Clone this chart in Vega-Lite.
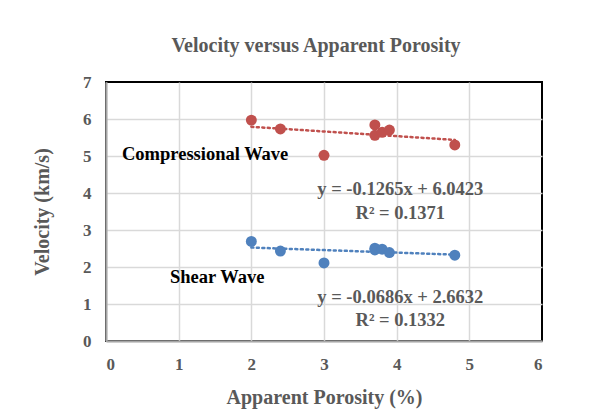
{
  "$schema": "https://vega.github.io/schema/vega-lite/v6.json",
  "width": 436,
  "height": 259,
  "autosize": {"type": "none"},
  "padding": {"left": 106, "top": 82, "right": 74, "bottom": 72},
  "background": "white",
  "title": {
    "text": "Velocity versus Apparent Porosity",
    "font": "Liberation Serif",
    "fontSize": 20,
    "fontWeight": "bold",
    "color": "#595959",
    "anchor": "middle",
    "frame": "group",
    "offset": 17,
    "dx": -8
  },
  "config": {
    "view": {"stroke": "black", "strokeWidth": 2},
    "axis": {
      "grid": true,
      "gridColor": "#D9D9D9",
      "gridWidth": 1.5,
      "domainColor": "#A6A6A6",
      "domainWidth": 2,
      "ticks": false,
      "labelFont": "Liberation Serif",
      "labelFontSize": 17,
      "labelFontWeight": "bold",
      "labelColor": "#595959",
      "titleFont": "Liberation Serif",
      "titleFontSize": 20,
      "titleFontWeight": "bold",
      "titleColor": "#595959"
    }
  },
  "datasets": {
    "points": [
      {"porosity": 2.0, "velocity": 5.97, "series": "Compressional Wave"},
      {"porosity": 2.4, "velocity": 5.73, "series": "Compressional Wave"},
      {"porosity": 3.0, "velocity": 5.02, "series": "Compressional Wave"},
      {"porosity": 3.7, "velocity": 5.84, "series": "Compressional Wave"},
      {"porosity": 3.7, "velocity": 5.56, "series": "Compressional Wave"},
      {"porosity": 3.8, "velocity": 5.64, "series": "Compressional Wave"},
      {"porosity": 3.9, "velocity": 5.70, "series": "Compressional Wave"},
      {"porosity": 4.8, "velocity": 5.30, "series": "Compressional Wave"},
      {"porosity": 2.0, "velocity": 2.69, "series": "Shear Wave"},
      {"porosity": 2.4, "velocity": 2.43, "series": "Shear Wave"},
      {"porosity": 3.0, "velocity": 2.11, "series": "Shear Wave"},
      {"porosity": 3.7, "velocity": 2.51, "series": "Shear Wave"},
      {"porosity": 3.7, "velocity": 2.46, "series": "Shear Wave"},
      {"porosity": 3.8, "velocity": 2.48, "series": "Shear Wave"},
      {"porosity": 3.9, "velocity": 2.39, "series": "Shear Wave"},
      {"porosity": 4.8, "velocity": 2.32, "series": "Shear Wave"}
    ],
    "trend": [
      {"porosity": 2.0, "velocity": 5.7893, "series": "Compressional Wave"},
      {"porosity": 4.8, "velocity": 5.4351, "series": "Compressional Wave"},
      {"porosity": 2.0, "velocity": 2.526, "series": "Shear Wave"},
      {"porosity": 4.8, "velocity": 2.3339, "series": "Shear Wave"}
    ],
    "names": [
      {"porosity": 0.22, "velocity": 5.06, "label": "Compressional Wave"},
      {"porosity": 0.88, "velocity": 1.72, "label": "Shear Wave"}
    ],
    "equations": [
      {"porosity": 4.05, "velocity": 4.12, "label": "y = -0.1265x + 6.0423"},
      {"porosity": 4.05, "velocity": 3.45, "label": "R² = 0.1371"},
      {"porosity": 4.05, "velocity": 1.18, "label": "y = -0.0686x + 2.6632"},
      {"porosity": 4.05, "velocity": 0.57, "label": "R² = 0.1332"}
    ]
  },
  "encoding": {
    "x": {
      "field": "porosity",
      "type": "quantitative",
      "scale": {"domain": [0, 6], "nice": false},
      "axis": {
        "values": [0, 1, 2, 3, 4, 5, 6],
        "labelPadding": 15,
        "title": "Apparent Porosity (%)",
        "titlePadding": 15,
        "gridOpacity": {"condition": {"test": "datum.value == 6", "value": 0}, "value": 1}
      }
    },
    "y": {
      "field": "velocity",
      "type": "quantitative",
      "scale": {"domain": [0, 7], "nice": false},
      "axis": {
        "values": [0, 1, 2, 3, 4, 5, 6, 7],
        "labelPadding": 15,
        "title": "Velocity (km/s)",
        "titlePadding": 30,
        "gridOpacity": {"condition": {"test": "datum.value == 7", "value": 0}, "value": 1}
      }
    }
  },
  "layer": [
    {
      "data": {"name": "trend"},
      "mark": {"type": "line", "strokeDash": [2, 3.5], "strokeWidth": 2.5, "strokeCap": "round"},
      "encoding": {
        "detail": {"field": "series"},
        "color": {"field": "series", "type": "nominal", "scale": {"domain": ["Compressional Wave", "Shear Wave"], "range": ["#C0504D", "#4F81BD"]}, "legend": null}
      }
    },
    {
      "data": {"name": "points"},
      "mark": {"type": "circle", "size": 120, "opacity": 1},
      "encoding": {
        "color": {"field": "series", "type": "nominal", "scale": {"domain": ["Compressional Wave", "Shear Wave"], "range": ["#C0504D", "#4F81BD"]}, "legend": null}
      }
    },
    {
      "data": {"name": "names"},
      "mark": {"type": "text", "align": "left", "baseline": "middle", "font": "Liberation Serif", "fontSize": 18.5, "fontWeight": "bold", "color": "black"},
      "encoding": {"text": {"field": "label"}}
    },
    {
      "data": {"name": "equations"},
      "mark": {"type": "text", "align": "center", "baseline": "middle", "font": "Liberation Serif", "fontSize": 18.5, "fontWeight": "bold", "color": "#595959"},
      "encoding": {"text": {"field": "label"}}
    }
  ]
}
